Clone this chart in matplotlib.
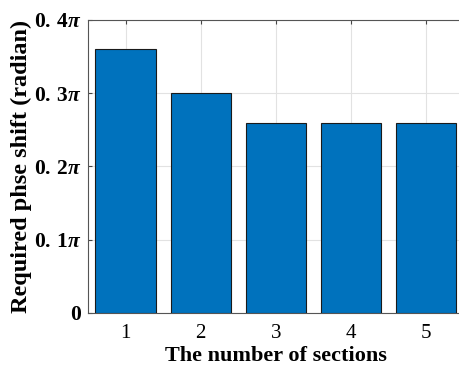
import matplotlib.pyplot as plt

# required phase shift per number of sections, in units of pi
sections = [1, 2, 3, 4, 5]
shift_pi = [0.36, 0.30, 0.26, 0.26, 0.26]
ytick_vals = [0, 0.1, 0.2, 0.3, 0.4]
ytick_text = ['0', r'$\mathbf{0.\,1}\pi$', r'$\mathbf{0.\,2}\pi$', r'$\mathbf{0.\,3}\pi$', r'$\mathbf{0.\,4}\pi$']

plt.rcParams['font.family'] = 'Liberation Serif'
plt.rcParams['mathtext.fontset'] = 'custom'
plt.rcParams['mathtext.rm'] = 'Liberation Serif'
plt.rcParams['mathtext.bf'] = 'Liberation Serif:bold'
plt.rcParams['mathtext.it'] = 'Liberation Serif:bold:italic'

fig = plt.figure(figsize=(4.59, 3.69), dpi=100)
ax = fig.add_axes([0.1917, 0.1518, 0.818, 0.794])

ax.bar(sections, shift_pi, width=0.8, color='#0072BD', edgecolor='#1a1a1a', linewidth=0.8, zorder=3)

ax.set_xlim(0.5, 5.5)
ax.set_ylim(0, 0.4)
ax.set_xticks(sections)
ax.set_yticks(ytick_vals)
ax.set_yticklabels(ytick_text)
ax.tick_params(axis='both', direction='in', top=True, length=3, color='#444444')
ax.tick_params(axis='y', pad=5, labelsize=15.5)
ax.tick_params(axis='x', pad=8, labelsize=15)
for lab in ax.get_yticklabels():
    lab.set_fontweight('bold')

ax.grid(True, color='#e2e2e2', linewidth=0.8, zorder=0)
for s in ax.spines.values():
    s.set_color('#555555')
    s.set_linewidth(0.8)

ax.set_xlabel('The number of sections', fontsize=16, fontweight='bold', labelpad=2)
ax.set_ylabel('Required phse shift (radian)', fontsize=17.5, fontweight='bold')
ax.yaxis.set_label_coords(-0.148, 0.5)

fig.savefig('out.png', dpi=100)
